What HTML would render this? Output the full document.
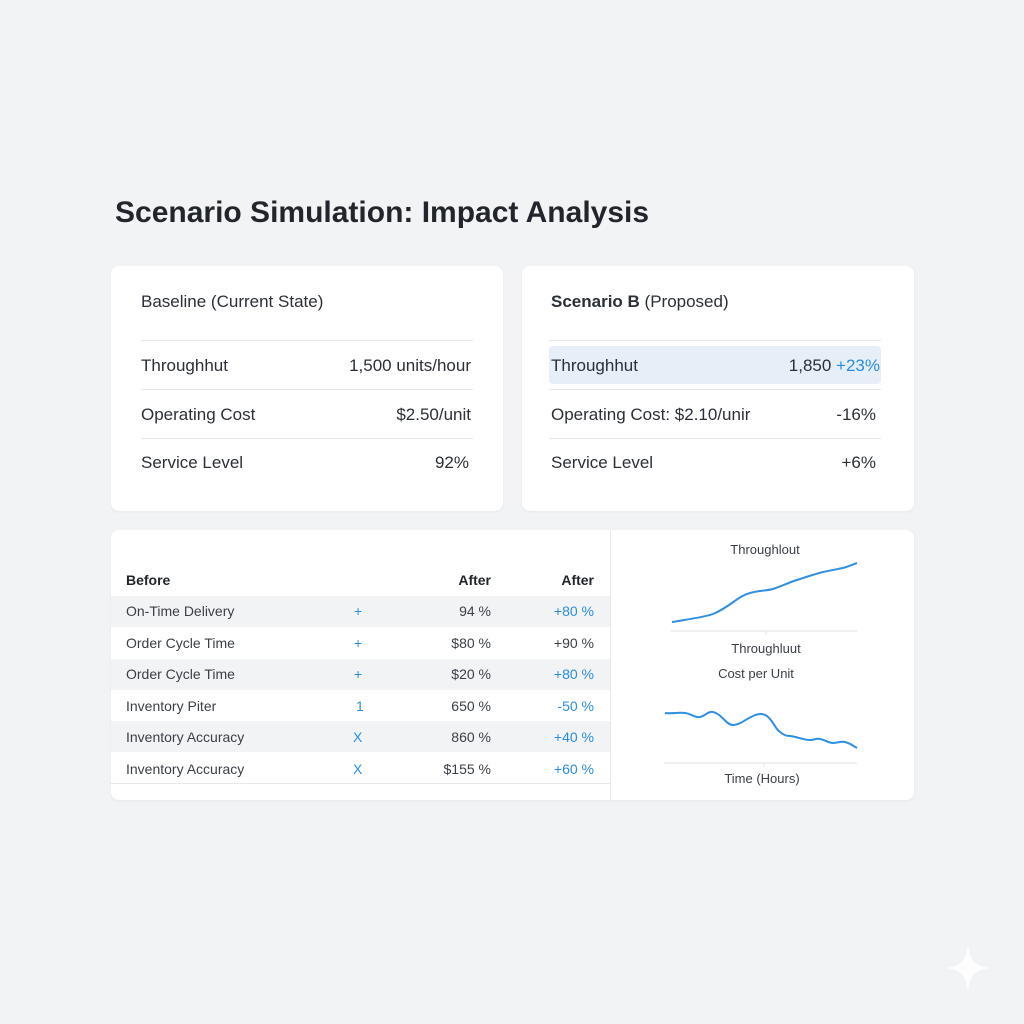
<!DOCTYPE html>
<html><head><meta charset="utf-8"><style>
*{margin:0;padding:0;box-sizing:border-box}
body{width:1024px;height:1024px;background:#f2f3f5;font-family:"Liberation Sans",sans-serif;color:#2b2f36;position:relative;overflow:hidden}
.a{position:absolute;white-space:nowrap}
.card{position:absolute;background:#fff;border-radius:8px;box-shadow:0 1px 3px rgba(0,0,0,0.05)}
.hl{position:absolute;height:1px;background:#e6e8ec}
.t{font-size:17px;color:#2b2f36}
.tb{font-size:14px;color:#3a3f47}
.blue,.tb.blue{color:#2a8ee0}
</style></head><body>
<div class="a" style="left:115px;top:196px;font-size:30px;font-weight:bold;color:#22262c">Scenario Simulation: Impact Analysis</div>

<div class="card" style="left:111px;top:266px;width:392px;height:245px"></div>
<div class="card" style="left:522px;top:266px;width:392px;height:245px"></div>
<div class="a t" style="left:141px;top:292px">Baseline (Current State)</div>
<div class="hl" style="left:141px;top:340px;width:332px"></div>
<div class="a t" style="left:141px;top:356px">Throughhut</div>
<div class="a t" style="right:553px;top:356px">1,500 units/hour</div>
<div class="hl" style="left:141px;top:389px;width:332px"></div>
<div class="a t" style="left:141px;top:405px">Operating Cost</div>
<div class="a t" style="right:553px;top:405px">$2.50/unit</div>
<div class="hl" style="left:141px;top:438px;width:332px"></div>
<div class="a t" style="left:141px;top:453px">Service Level</div>
<div class="a t" style="right:555px;top:453px">92%</div>

<div class="a t" style="left:551px;top:292px"><b>Scenario B</b> (Proposed)</div>
<div class="hl" style="left:549px;top:340px;width:332px"></div>
<div class="a" style="left:549px;top:346px;width:332px;height:38px;background:#e6eef8;border-radius:4px"></div>
<div class="a t" style="left:551px;top:356px">Throughhut</div>
<div class="a t" style="right:144px;top:356px">1,850 <span class="blue">+23%</span></div>
<div class="hl" style="left:549px;top:389px;width:332px"></div>
<div class="a t" style="left:551px;top:405px">Operating Cost: $2.10/unir</div>
<div class="a t" style="right:148px;top:405px">-16%</div>
<div class="hl" style="left:549px;top:438px;width:332px"></div>
<div class="a t" style="left:551px;top:453px">Service Level</div>
<div class="a t" style="right:148px;top:453px">+6%</div>

<div class="card" style="left:111px;top:530px;width:803px;height:270px"></div>
<div class="a" style="left:610px;top:530px;width:1px;height:270px;background:#e6e8ec"></div>
<div class="a" style="left:126px;top:572px;font-size:14px;font-weight:bold;color:#22262c">Before</div>
<div class="a" style="right:533px;top:572px;font-size:14px;font-weight:bold;color:#22262c">After</div>
<div class="a" style="right:430px;top:572px;font-size:14px;font-weight:bold;color:#22262c">After</div>
<div class="a" style="left:111px;top:596px;width:499px;height:31px;background:#f2f3f5"></div>
<div class="a" style="left:111px;top:659px;width:499px;height:31px;background:#f2f3f5"></div>
<div class="a" style="left:111px;top:721px;width:499px;height:31px;background:#f2f3f5"></div>
<div class="hl" style="left:111px;top:783px;width:499px"></div>

<div class="a tb" style="left:126px;top:603px">On-Time Delivery</div><div class="a tb blue" style="left:354px;top:603px">+</div><div class="a tb" style="right:533px;top:603px">94 %</div><div class="a tb blue" style="right:430px;top:603px">+80 %</div>
<div class="a tb" style="left:126px;top:635px">Order Cycle Time</div><div class="a tb blue" style="left:354px;top:635px">+</div><div class="a tb" style="right:533px;top:635px">$80 %</div><div class="a tb" style="right:430px;top:635px">+90 %</div>
<div class="a tb" style="left:126px;top:666px">Order Cycle Time</div><div class="a tb blue" style="left:354px;top:666px">+</div><div class="a tb" style="right:533px;top:666px">$20 %</div><div class="a tb blue" style="right:430px;top:666px">+80 %</div>
<div class="a tb" style="left:126px;top:698px">Inventory Piter</div><div class="a tb blue" style="left:356px;top:698px">1</div><div class="a tb" style="right:533px;top:698px">650 %</div><div class="a tb blue" style="right:430px;top:698px">-50 %</div>
<div class="a tb" style="left:126px;top:729px">Inventory Accuracy</div><div class="a tb blue" style="left:353px;top:729px">X</div><div class="a tb" style="right:533px;top:729px">860 %</div><div class="a tb blue" style="right:430px;top:729px">+40 %</div>
<div class="a tb" style="left:126px;top:761px">Inventory Accuracy</div><div class="a tb blue" style="left:353px;top:761px">X</div><div class="a tb" style="right:533px;top:761px">$155 %</div><div class="a tb blue" style="right:430px;top:761px">+60 %</div>

<svg class="a" style="left:0;top:0" width="1024" height="1024">
<g font-family="Liberation Sans" font-size="13" fill="#3a3f47" text-anchor="middle">
<text x="765" y="554">Throughlout</text>
<text x="766" y="653">Throughluut</text>
<text x="756" y="678">Cost per Unit</text>
<text x="762" y="783">Time (Hours)</text>
</g>
<line x1="671" y1="631" x2="857" y2="631" stroke="#dfe2e6"/>
<line x1="766" y1="631" x2="766" y2="635" stroke="#dfe2e6"/>
<line x1="664" y1="763" x2="857" y2="763" stroke="#dfe2e6"/>
<line x1="764" y1="763" x2="764" y2="767" stroke="#dfe2e6"/>
<path d="M672,622 C690,619 705,617 713,614 C730,607 738,596 750,593 C760,590 766,591 773,589 C782,586 790,582 797,580 C806,577 815,574 823,572 C832,570 838,569 843,568 C850,566 854,564 857,563" fill="none" stroke="#2f8fe0" stroke-width="2"/>
<path d="M665,713 C672,714 678,712 685,713 C692,714 695,718 700,717 C705,716 708,711 713,712 C722,714 726,725 733,725 C742,725 752,713 762,714 C772,716 774,728 780,732 C784,735 786,736 790,736 C798,737 804,740 810,740 C815,740 816,738 820,739 C826,740 828,743 833,743 C838,743 841,741 845,742 C850,743 853,746 857,748" fill="none" stroke="#2f8fe0" stroke-width="2"/>
<path d="M968,944 C970,960 974,966 990,968 C974,970 970,976 968,992 C966,976 962,970 946,968 C962,966 966,960 968,944Z" fill="#fff" opacity="0.8"/>
</svg>
</body></html>
